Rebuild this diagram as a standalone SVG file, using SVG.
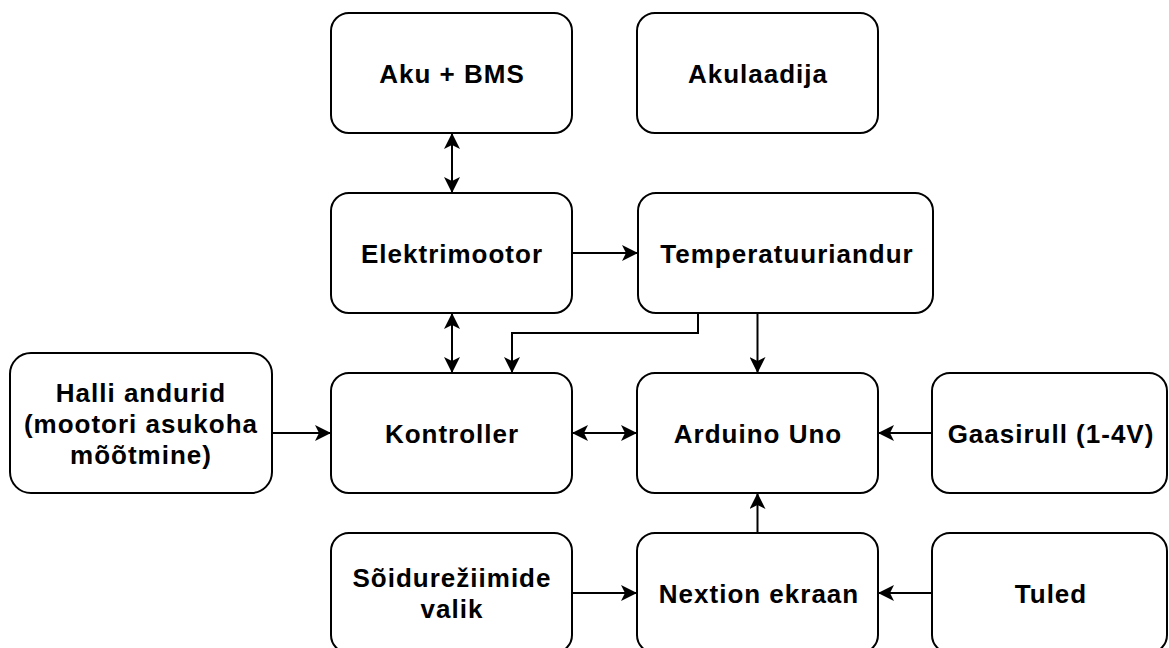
<svg xmlns="http://www.w3.org/2000/svg" width="1169" height="648" viewBox="0 0 1169 648">
<style>
.box{fill:#fff;stroke:#000;stroke-width:2}
.lbl{font-family:"Liberation Sans",Arial,Helvetica,sans-serif;font-weight:bold;font-size:26px;letter-spacing:1px;fill:#000;text-anchor:middle}
.edge{fill:none;stroke:#000;stroke-width:2}
</style>
<defs>
<marker id="ah" markerUnits="userSpaceOnUse" markerWidth="16" markerHeight="16" refX="14" refY="7" orient="auto-start-reverse" viewBox="0 0 14 14">
<path d="M0,0 L14,7 L0,14 L3.5,7 Z" fill="#000"/>
</marker>
</defs>
<rect width="1169" height="648" fill="#fff"/>
<g id="connectors">
<line class="edge" x1="452" y1="133" x2="452" y2="193" marker-start="url(#ah)" marker-end="url(#ah)"/>
<line class="edge" x1="572" y1="253" x2="638" y2="253" marker-end="url(#ah)"/>
<line class="edge" x1="452" y1="313" x2="452" y2="373" marker-start="url(#ah)" marker-end="url(#ah)"/>
<polyline class="edge" points="698,313 698,333 512,333 512,373" marker-end="url(#ah)"/>
<line class="edge" x1="757.5" y1="313" x2="757.5" y2="373" marker-end="url(#ah)"/>
<line class="edge" x1="272" y1="433" x2="331" y2="433" marker-end="url(#ah)"/>
<line class="edge" x1="572" y1="433" x2="637" y2="433" marker-start="url(#ah)" marker-end="url(#ah)"/>
<line class="edge" x1="932" y1="433" x2="878" y2="433" marker-end="url(#ah)"/>
<line class="edge" x1="757.5" y1="533" x2="757.5" y2="493" marker-end="url(#ah)"/>
<line class="edge" x1="572" y1="593" x2="637" y2="593" marker-end="url(#ah)"/>
<line class="edge" x1="932" y1="593" x2="878" y2="593" marker-end="url(#ah)"/>
</g>
<g id="aku">
<rect class="box" x="331" y="13" width="241" height="120" rx="18"/>
<text class="lbl" x="452" y="83">Aku + BMS</text>
</g>
<g id="akulaadija">
<rect class="box" x="637" y="13" width="241" height="120" rx="18"/>
<text class="lbl" x="758" y="83">Akulaadija</text>
</g>
<g id="elektrimootor">
<rect class="box" x="331" y="193" width="241" height="120" rx="18"/>
<text class="lbl" x="452" y="263">Elektrimootor</text>
</g>
<g id="temperatuuriandur">
<rect class="box" x="638" y="193" width="295" height="120" rx="18"/>
<text class="lbl" x="787" y="263">Temperatuuriandur</text>
</g>
<g id="halli">
<rect class="box" x="10" y="353" width="262" height="140" rx="21"/>
<text class="lbl" x="141" y="402">Halli andurid</text>
<text class="lbl" x="141" y="433">(mootori asukoha</text>
<text class="lbl" x="141" y="464">mõõtmine)</text>
</g>
<g id="kontroller">
<rect class="box" x="331" y="373" width="241" height="120" rx="18"/>
<text class="lbl" x="452" y="443">Kontroller</text>
</g>
<g id="arduino">
<rect class="box" x="637" y="373" width="241" height="120" rx="18"/>
<text class="lbl" x="758" y="443">Arduino Uno</text>
</g>
<g id="gaasirull">
<rect class="box" x="932" y="373" width="235" height="120" rx="18"/>
<text class="lbl" x="1051" y="443">Gaasirull (1-4V)</text>
</g>
<g id="soidurezhiimid">
<rect class="box" x="331" y="533" width="241" height="120" rx="18"/>
<text class="lbl" x="452" y="587">Sõidurežiimide</text>
<text class="lbl" x="452" y="618">valik</text>
</g>
<g id="nextion">
<rect class="box" x="637" y="533" width="241" height="120" rx="18"/>
<text class="lbl" x="759" y="603">Nextion ekraan</text>
</g>
<g id="tuled">
<rect class="box" x="932" y="533" width="235" height="120" rx="18"/>
<text class="lbl" x="1051" y="603">Tuled</text>
</g>
</svg>
